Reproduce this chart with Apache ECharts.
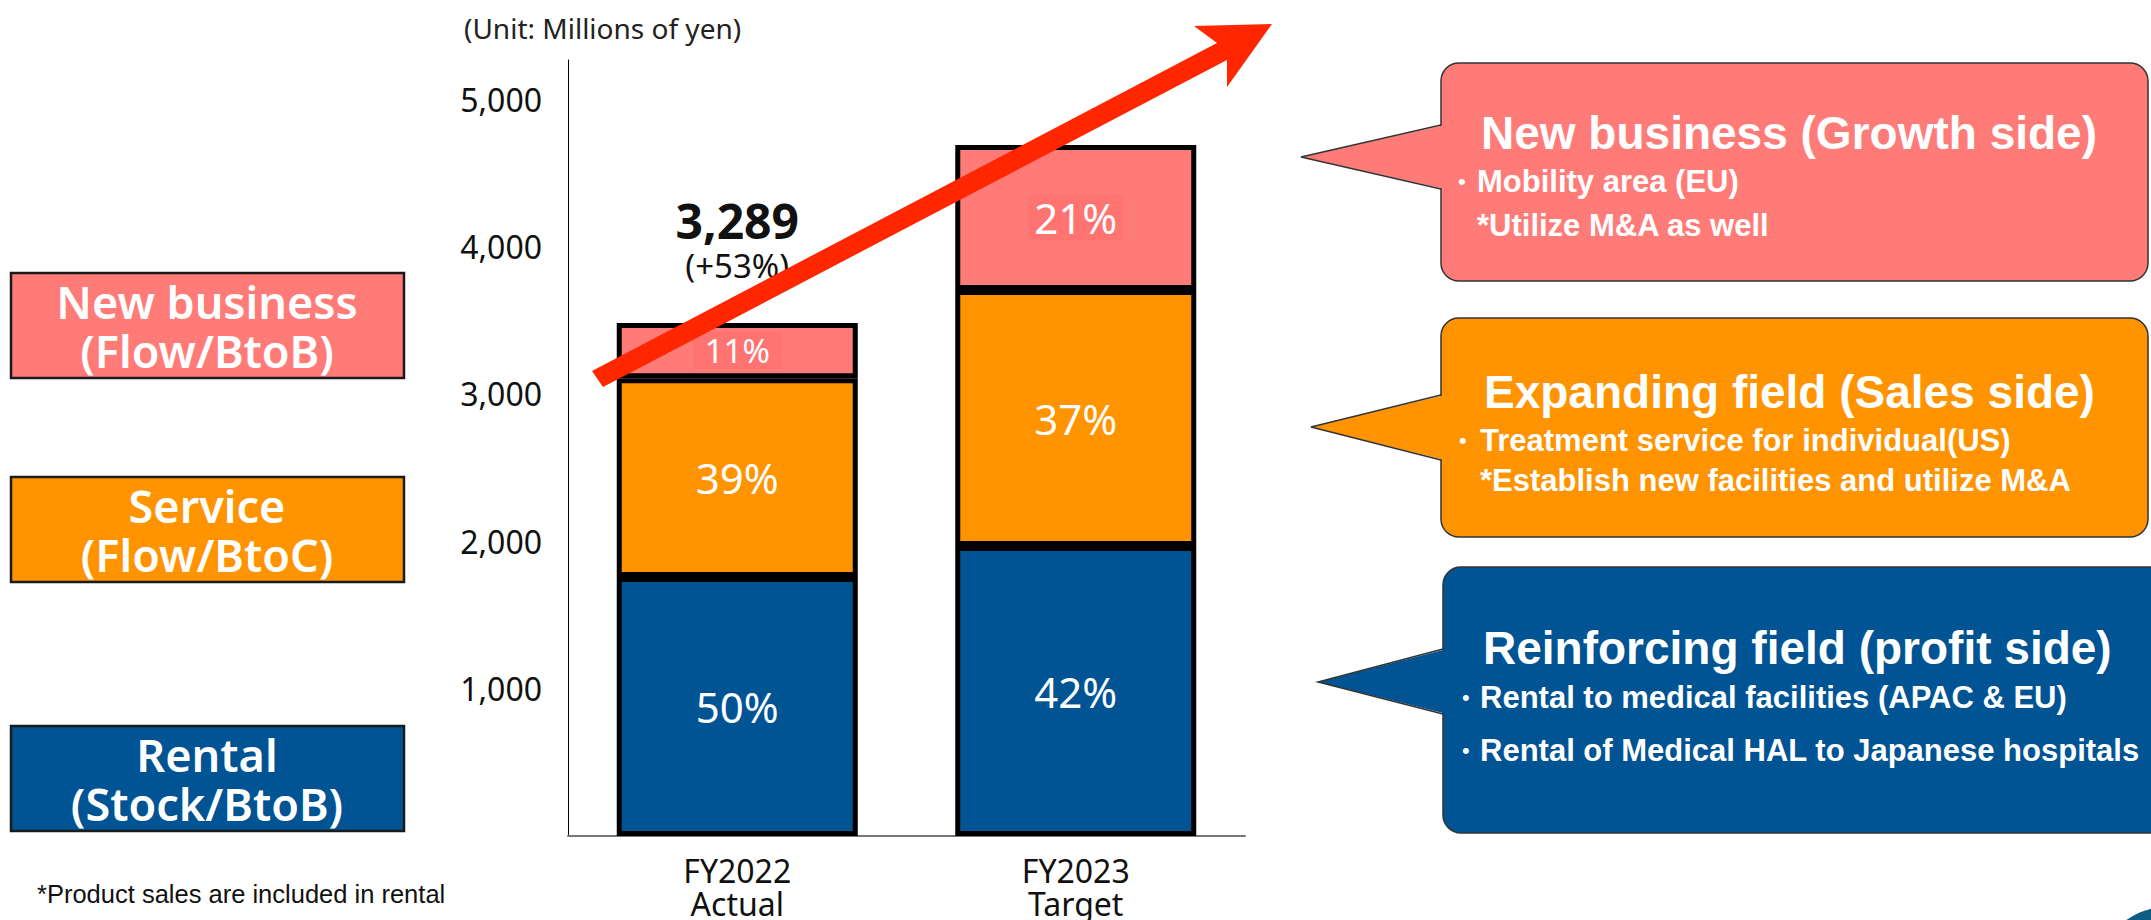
<!DOCTYPE html>
<html>
<head>
<meta charset="utf-8">
<script src="https://cdn.jsdelivr.net/npm/echarts@6/dist/echarts.min.js"></script>
<style>
  html, body { margin: 0; padding: 0; background: #ffffff; }
  #chart { width: 2151px; height: 920px; }
</style>
</head>
<body>
<div id="chart"></div>
<script>
// Sales composition, millions of yen (segments)
const categories = ["FY2022\nActual", "FY2023\nTarget"];
const rental = [1660, 1859];
const service = [1275, 1641];
const newBusiness = [354, 930];
const rentalPct = [50, 42];
const servicePct = [39, 37];
const newPct = [11, 21];
const growthLabel = ["(+53%)", null];

const leftLabels = [
  ["New business", "(Flow/BtoB)"],
  ["Service", "(Flow/BtoC)"],
  ["Rental", "(Stock/BtoB)"],
];
const calloutTitles = [
  "New business (Growth side)",
  "Expanding field (Sales side)",
  "Reinforcing field (profit side)",
];
const calloutLines = [
  [["•", "Mobility area (EU)"], ["", "*Utilize M&A as well"]],
  [["•", "Treatment service for individual(US)"], ["", "*Establish new facilities and utilize M&A"]],
  [["•", "Rental to medical facilities (APAC & EU)"], ["•", "Rental of Medical HAL to Japanese hospitals"]],
];

const PINK = "#ff7b78";
const PINK_BOX = "#ff7371";
const ORANGE = "#ff9300";
const BLUE = "#005493";
const RED = "#ff2600";
const INK = "#111111";
const JP_FONT = "'Noto Sans', sans-serif";
const HEL_FONT = "'Liberation Sans', Arial, sans-serif";
const segColors = [PINK, ORANGE, BLUE];

const totals = rental.map((v, i) => v + service[i] + newBusiness[i]);
const fmt = (v) => new Intl.NumberFormat("en-US").format(v);

const chart = echarts.init(document.getElementById("chart"), null, { renderer: "svg" });

// left-hand category boxes
const leftBoxTop = [273, 477, 726];
const graphics = [];
leftLabels.forEach((lines, i) => {
  const y = leftBoxTop[i];
  graphics.push({
    type: "rect",
    shape: { x: 11, y: y, width: 393, height: 105 },
    style: { fill: segColors[i], stroke: "#1a1a1a", lineWidth: 2.5 },
  });
  graphics.push({
    type: "text",
    x: 207,
    y: y + 53,
    style: {
      text: lines.join("\n"), fill: "#ffffff", fontSize: 45, fontWeight: 600, fontFamily: JP_FONT,
      lineHeight: 49,
      align: "center", verticalAlign: "middle", textAlign: "center", textVerticalAlign: "middle",
    },
  });
});

// speech-bubble callouts on the right
const callouts = [
  { x: 1441, y: 63, w: 707, h: 218, tip: [1301, 157], base: [125, 189], titleX: 1481, titleY: 133, bulletX: 1458, textX: 1477, lineY: [181, 225] },
  { x: 1441, y: 318, w: 707, h: 219, tip: [1311, 427], base: [395, 460], titleX: 1484, titleY: 392, bulletX: 1459, textX: 1480, lineY: [440, 480] },
  { x: 1443, y: 567, w: 740, h: 266, tip: [1318, 682], base: [649, 714], titleX: 1483, titleY: 648, bulletX: 1462, textX: 1480, lineY: [697, 750] },
];
callouts.forEach((c, i) => {
  const fill = segColors[i];
  graphics.push({
    type: "rect",
    shape: { x: c.x, y: c.y, width: c.w, height: c.h, r: 18 },
    style: { fill: fill, stroke: "#333333", lineWidth: 1.5 },
  });
  graphics.push({
    type: "polygon",
    shape: { points: [[c.x + 4, c.base[0]], c.tip, [c.x + 4, c.base[1]]] },
    style: { fill: fill },
  });
  graphics.push({
    type: "polyline",
    shape: { points: [[c.x, c.base[0]], c.tip, [c.x, c.base[1]]] },
    style: { stroke: "#333333", lineWidth: 1.5, fill: null },
  });
  graphics.push({
    type: "text",
    x: c.titleX,
    y: c.titleY,
    style: {
      text: calloutTitles[i], fill: "#ffffff", fontSize: 46, fontWeight: "bold", fontFamily: HEL_FONT,
      align: "left", verticalAlign: "middle", textAlign: "left", textVerticalAlign: "middle",
    },
  });
  calloutLines[i].forEach((ln, j) => {
    if (ln[0]) {
      graphics.push({
        type: "text",
        x: c.bulletX,
        y: c.lineY[j],
        style: {
          text: ln[0], fill: "#ffffff", fontSize: 22, fontFamily: HEL_FONT,
          align: "left", verticalAlign: "middle", textAlign: "left", textVerticalAlign: "middle",
        },
      });
    }
    graphics.push({
      type: "text",
      x: c.textX,
      y: c.lineY[j],
      style: {
        text: ln[1], fill: "#ffffff", fontSize: 31, fontWeight: "bold", fontFamily: HEL_FONT,
        align: "left", verticalAlign: "middle", textAlign: "left", textVerticalAlign: "middle",
      },
    });
  });
});

// unit note, footnote, growth arrow, page badge
graphics.push({
  type: "text", x: 464, y: 28,
  style: { text: "(Unit: Millions of yen)", fill: "#222222", fontSize: 28, fontFamily: JP_FONT,
    align: "left", verticalAlign: "middle", textAlign: "left", textVerticalAlign: "middle" },
});
graphics.push({
  type: "text", x: 37, y: 894,
  style: { text: "*Product sales are included in rental", fill: "#111111", fontSize: 25.5, fontFamily: HEL_FONT,
    align: "left", verticalAlign: "middle", textAlign: "left", textVerticalAlign: "middle" },
});
graphics.push({
  type: "polygon", z: 100,
  shape: { points: [[592, 371], [1217, 43], [1194, 26], [1272, 24], [1227, 87], [1227, 60], [603, 387]] },
  style: { fill: RED },
});
graphics.push({
  type: "circle", shape: { cx: 2167, cy: 977, r: 70 }, style: { fill: "#0f5c87" },
});

const segLabel = (pcts) => ({
  show: true,
  position: "inside",
  color: "#ffffff",
  fontSize: 42,
  fontFamily: JP_FONT,
  formatter: (p) => pcts[p.dataIndex] + "%",
});
const barBase = {
  type: "bar",
  stack: "sales",
  yAxisIndex: 1,
  barWidth: 241,
  itemStyle: { borderColor: "#000000", borderWidth: 5 },
  emphasis: { disabled: true },
};

chart.setOption({
  backgroundColor: "#ffffff",
  animation: false,
  textStyle: { fontFamily: JP_FONT },
  grid: { left: 568, top: 60, width: 677, height: 776 },
  xAxis: {
    type: "category",
    data: categories,
    axisLine: { lineStyle: { color: "#777777", width: 2 } },
    axisTick: { show: false },
    axisLabel: { color: INK, fontSize: 32, lineHeight: 33, margin: 18, fontFamily: JP_FONT },
  },
  yAxis: [
    {
      type: "value",
      position: "left",
      min: 0,
      max: 5265,
      interval: 1000,
      axisLine: { show: true, lineStyle: { color: "#000000", width: 1 } },
      axisTick: { show: false },
      splitLine: { show: false },
      axisLabel: {
        color: INK, fontSize: 32, margin: 26, fontFamily: JP_FONT,
        showMinLabel: false, showMaxLabel: false,
        formatter: (v) => (v % 1000 === 0 && v > 0 ? fmt(v) : ""),
      },
    },
    { type: "value", position: "left", show: false, min: 0, max: 4975 },
  ],
  series: [
    { ...barBase, name: "Rental", data: rental, itemStyle: { ...barBase.itemStyle, color: BLUE }, label: segLabel(rentalPct) },
    { ...barBase, name: "Service", data: service, itemStyle: { ...barBase.itemStyle, color: ORANGE }, label: segLabel(servicePct) },
    {
      ...barBase,
      name: "New business",
      itemStyle: { ...barBase.itemStyle, color: PINK },
      label: segLabel(newPct),
      data: newBusiness.map((v, i) => ({
        value: v,
        label: {
          fontSize: i === 0 ? 33 : 42,
          backgroundColor: PINK_BOX,
          padding: i === 0 ? [3, 12, 1, 12] : [3, 6, 1, 6],
        },
      })),
      markPoint: {
        symbol: "rect",
        symbolSize: 0,
        silent: true,
        data: growthLabel
          .map((g, i) => (g ? {
            coord: [categories[i], totals[i]],
            label: {
              show: true,
              position: "top",
              distance: 38,
              color: INK,
              formatter: "{a|" + fmt(totals[i]) + "}\n{b|" + g + "}",
              rich: {
                a: { fontSize: 48, fontWeight: "bold", lineHeight: 52, fontFamily: JP_FONT, color: INK },
                b: { fontSize: 33, lineHeight: 38, fontFamily: JP_FONT, color: INK },
              },
            },
          } : null))
          .filter(Boolean),
      },
    },
  ],
  graphic: graphics,
});
</script>
</body>
</html>
